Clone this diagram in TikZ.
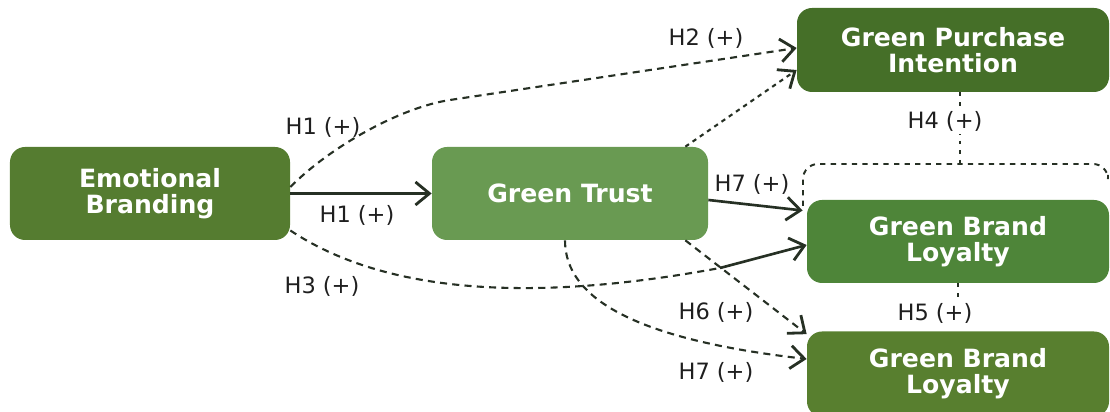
\documentclass[tikz,border=0pt]{standalone}
\usepackage{fontspec}
\setmainfont{DejaVu Sans}
\usetikzlibrary{arrows.meta}

\definecolor{ebgreen}{HTML}{557C30}
\definecolor{gtgreen}{HTML}{699A52}
\definecolor{gpigreen}{HTML}{456F28}
\definecolor{gblgreen}{HTML}{4E8539}
\definecolor{gbltwo}{HTML}{587F2F}
\definecolor{linedark}{HTML}{263024}

\begin{document}
\begin{tikzpicture}[
	box/.style={rounded corners=0.3cm, text=white, align=center, inner sep=0pt,
		font=\bfseries\fontsize{14.3}{14.8}\selectfont},
	lbl/.style={font=\fontsize{12.8}{14}\selectfont, text=black!88, inner sep=1.5pt},
	>={Straight Barb[length=2.8mm,width=4.6mm,line width=1.6pt]},
	link/.style={draw=linedark, line width=1.2pt, ->},
	dsh/.style={link, dash pattern=on 4pt off 3pt},
	dot/.style={draw=linedark, line width=1.1pt, dash pattern=on 2pt off 3.5pt}]
	\useasboundingbox (0,0) rectangle (22.2,8.24);
	% constructs
	\node[box, fill=ebgreen, minimum width=5.6cm, minimum height=1.86cm] (eb) at (3.0,4.37) {Emotional\\Branding};
	\node[box, fill=gtgreen, minimum width=5.52cm, minimum height=1.86cm] (gt) at (11.4,4.37) {Green Trust};
	\node[box, fill=gpigreen, minimum width=6.24cm, minimum height=1.68cm] (gpi) at (19.06,7.24) {Green Purchase\\Intention};
	\node[box, fill=gblgreen, minimum width=6.04cm, minimum height=1.66cm] (gbl) at (19.16,3.41) {Green Brand\\Loyalty};
	\node[box, fill=gbltwo, minimum width=6.04cm, minimum height=1.7cm] (gbltwo) at (19.16,0.76) {Green Brand\\Loyalty};
	% dashed frame under the purchase intention
	\draw[dot, dash pattern=on 3pt off 3pt, rounded corners=0.3cm] (16.06,4.12) -- (16.06,4.96) -- (22.16,4.96) -- (22.16,4.8);
	\coordinate (frametop) at (19.2,4.96);
	\coordinate (bend) at (14.4,2.88);
	% paths
	\draw[link, line width=1.5pt] (eb.east) -- (gt.west);
	\draw[dsh] ([yshift=0.13cm]eb.east) .. controls (6.6,5.3) and (8.0,6.09) .. (9.0,6.24) -- ([yshift=0.04cm]gpi.west);
	\draw[dsh, dash pattern=on 2.5pt off 2.5pt] ([xshift=-0.46cm]gt.north east) -- ([yshift=-0.4cm]gpi.west);
	\draw[dsh, -] ([yshift=-0.74cm]eb.east) .. controls (7.6,2.44) and (10.4,2.14) .. (bend);
	\draw[link, line width=1.5pt] (bend) -- ([yshift=-0.07cm]gbl.west);
	\draw[link, line width=1.5pt] ([yshift=-0.13cm]gt.east) -- ([xshift=-0.08cm,yshift=0.62cm]gbl.west);
	\draw[dsh] ([xshift=-0.1cm]gt.south) .. controls +(0,-1.2) and (12.8,1.44) .. ([yshift=0.3cm]gbltwo.west);
	\draw[dsh] ([xshift=-0.46cm]gt.south east) -- ([yshift=-0.06cm]gbltwo.north west);
	\draw[dot] ([xshift=0.14cm]gpi.south) -- (frametop);
	\draw[dot] (gbl.south) -- (gbltwo.north);
	% labels
	\node[lbl] (h1a) at (6.46,5.7) {H1 (+)};
	\node[lbl] (h1b) at (7.14,3.94) {H1 (+)};
	\node[lbl] (h3) at (6.44,2.52) {H3 (+)};
	\node[lbl] (h2) at (14.12,7.48) {H2 (+)};
	\node[lbl] (h7a) at (15.04,4.56) {H7 (+)};
	\node[lbl, fill=white] (h4) at (18.9,5.82) {H4 (+)};
	\node[lbl] (h6) at (14.32,2.0) {H6 (+)};
	\node[lbl] (h7b) at (14.32,0.8) {H7 (+)};
	\node[lbl, fill=white] (h5) at (18.7,1.98) {H5 (+)};
\end{tikzpicture}
\end{document}
